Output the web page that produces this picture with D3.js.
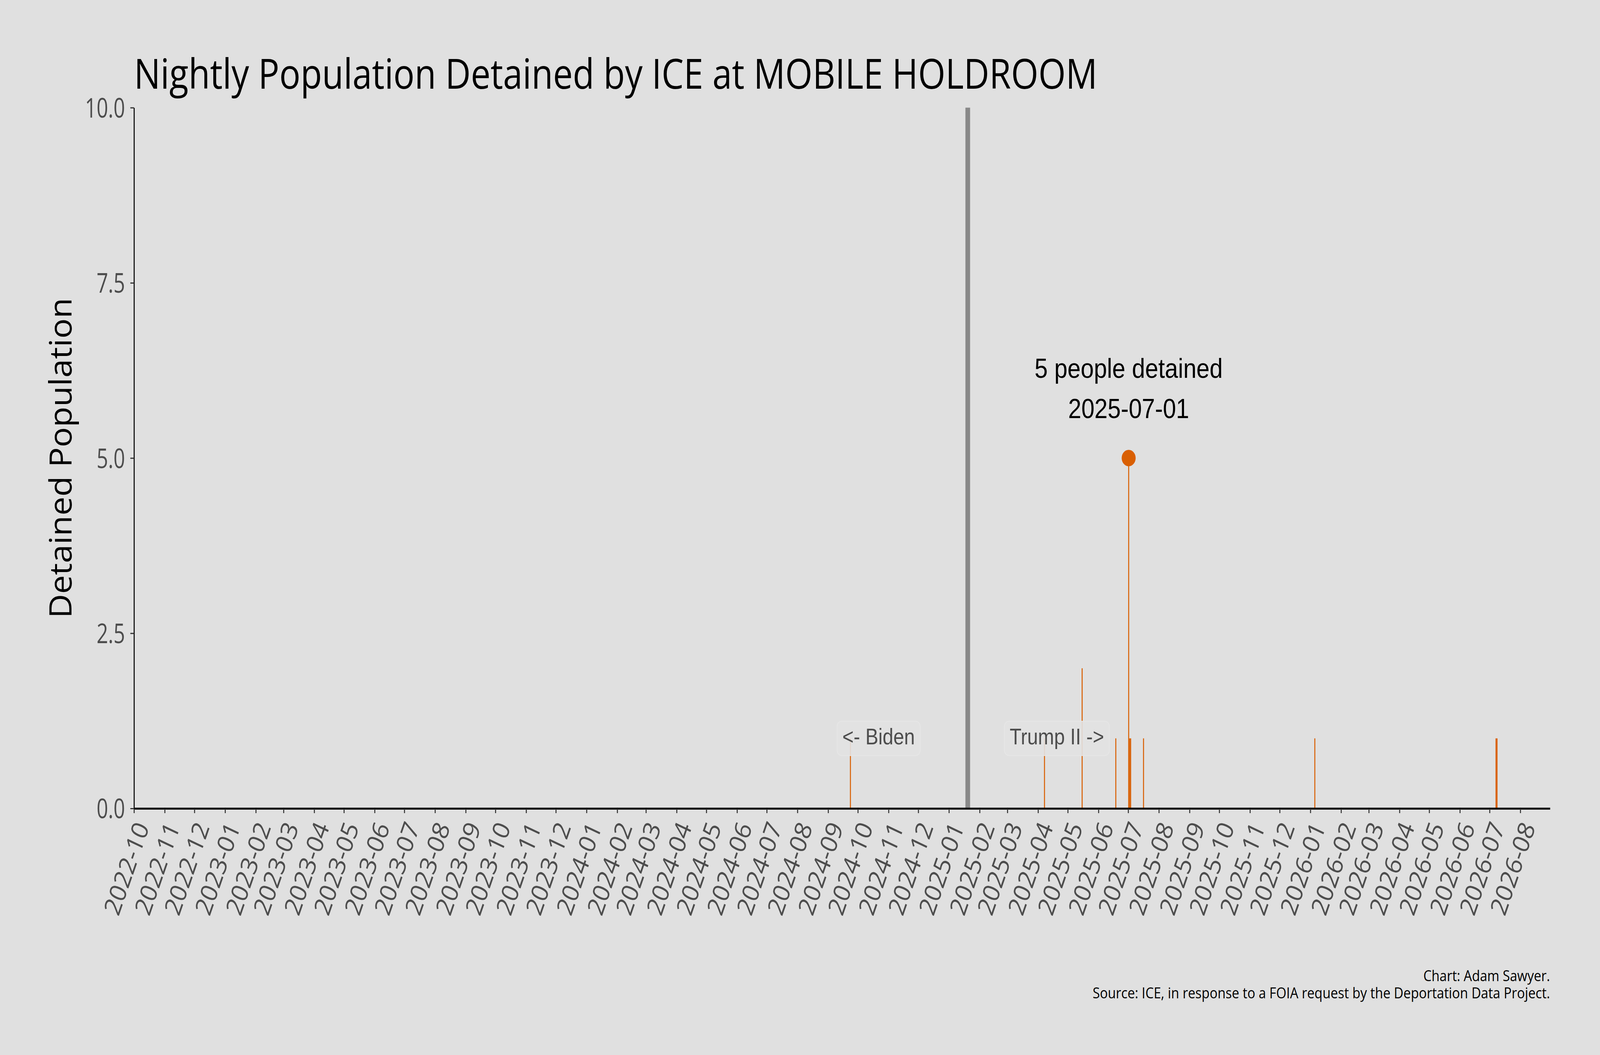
<!DOCTYPE html>
<html>
<head>
<meta charset="utf-8">
<script src="https://cdn.jsdelivr.net/npm/d3@7"></script>
<style>
  html, body { margin: 0; padding: 0; background: #e0e0e0; overflow: hidden; }
  #chart { width: 100vw; height: 100vh; }
  svg { display: block; width: 100%; height: 100%; }
</style>
</head>
<body>
<div id="chart"></div>
<script>
// nightly counts, only nights with someone held
var dates    = ["2024-09-23", "2025-04-07", "2025-05-15", "2025-06-18", "2025-07-01", "2025-07-02",
                "2025-07-03", "2025-07-16", "2026-01-05", "2026-07-07", "2026-07-08"];
var detained = [1, 1, 2, 1, 5, 1, 1, 1, 1, 1, 1];

var xDomain = ["2022-10-01", "2026-08-31"];
var firstTick = "2022-10-01", lastTick = "2026-08-01";
var yTicks = [0, 2.5, 5, 7.5, 10];

var inauguration = "2025-01-20";
var eraLabels = ["<- Biden", "Trump II ->"];
var peakDate = "2025-07-01", peakValue = 5;
var peakLines = ["5 people detained", "2025-07-01"];

var title = "Nightly Population Detained by ICE at MOBILE HOLDROOM";
var yLabel = "Detained Population";
var credits = ["Chart: Adam Sawyer.", "Source: ICE, in response to a FOIA request by the Deportation Data Project."];

var W = 4800, H = 2700;
var plotLeft = 402, plotRight = 4650, plotTop = 275.5, plotBottom = 2069;
var orange = "#d95f02";
var sans = "'Open Sans', 'Noto Sans', sans-serif";
var arial = "'Liberation Sans', Arial, sans-serif";

var parse = d3.timeParse("%Y-%m-%d");
var data = dates.map(function(d, i){ return { date: parse(d), value: detained[i] }; });

// drawn in a 4800x2700 frame, stretched to whatever the window is
var svg = d3.select("#chart").append("svg")
    .attr("viewBox", "0 0 " + W + " " + H)
    .attr("preserveAspectRatio", "none");

svg.append("rect").attr("width", W).attr("height", H).attr("fill", "#e0e0e0");

var x = d3.scaleTime()
    .domain(xDomain.map(parse))
    .range([plotLeft, plotRight]);

var y = d3.scaleLinear()
    .domain([0, 10])
    .range([plotBottom, plotTop]);

// the original face is narrower than Open Sans
function condense(factor) {
    return function(sel) {
        sel.each(function(){
            var w = this.getComputedTextLength();
            this.setAttribute("textLength", w * factor);
            this.setAttribute("lengthAdjust", "spacingAndGlyphs");
        });
    };
}

// inauguration line
svg.append("line")
    .attr("x1", x(parse(inauguration))).attr("x2", x(parse(inauguration)))
    .attr("y1", plotTop).attr("y2", plotBottom)
    .attr("stroke", "#888888").attr("stroke-width", 14);

// one bar per night, one day wide
svg.append("g").selectAll("rect")
    .data(data)
    .enter()
    .append("rect")
    .attr("x", function(d){ return x(d.date); })
    .attr("width", function(d){ return x(d3.timeDay.offset(d.date, 1)) - x(d.date); })
    .attr("y", function(d){ return y(d.value); })
    .attr("height", function(d){ return y(0) - y(d.value); })
    .attr("fill", orange);

// era labels with a soft box
var eraOffsets = [-90, 90];
eraLabels.forEach(function(label, i){
    var cx = x(d3.timeDay.offset(parse(inauguration), eraOffsets[i]));
    var g = svg.append("g");
    var box = g.append("rect");
    var t = g.append("text")
        .attr("x", cx).attr("y", y(1))
        .attr("dy", "0.27em")
        .attr("text-anchor", "middle")
        .attr("font-family", arial)
        .attr("font-size", 58)
        .attr("fill", "#4d4d4d")
        .text(label);
    var w = t.node().getComputedTextLength();
    box.attr("x", cx - w / 2 - 16).attr("width", w + 32)
        .attr("y", y(1) - 44).attr("height", 88)
        .attr("rx", 14)
        .attr("fill", "#e2e2e2").attr("fill-opacity", 0.9)
        .attr("stroke", "#e7e7e7").attr("stroke-width", 2);
});

// peak marker and note
var peak = parse(peakDate);
var peakX = x(peak) + (x(d3.timeDay.offset(peak, 1)) - x(peak)) / 2;
svg.append("circle")
    .attr("cx", peakX).attr("cy", y(peakValue))
    .attr("r", 21)
    .attr("fill", orange);

svg.append("g").selectAll("text")
    .data(peakLines)
    .enter()
    .append("text")
    .attr("x", peakX)
    .attr("y", function(d, i){ return 967 + i * 103; })
    .attr("text-anchor", "middle")
    .attr("font-family", arial)
    .attr("font-size", 71)
    .attr("fill", "#000")
    .text(function(d){ return d; });

// axes
var xAxis = d3.axisBottom(x)
    .tickValues(d3.timeMonth.range(parse(firstTick), d3.timeDay.offset(parse(lastTick), 1)))
    .tickFormat(d3.timeFormat("%Y-%m"))
    .tickSize(12)
    .tickSizeOuter(0);

var gx = svg.append("g")
    .attr("transform", "translate(0," + plotBottom + ")")
    .call(xAxis);
gx.select(".domain").attr("stroke", "#000").attr("stroke-width", 5);
gx.selectAll(".tick line").attr("stroke", "#333").attr("stroke-width", 3);
gx.selectAll(".tick text")
    .attr("x", 0).attr("y", 0)
    .attr("dy", "0.72em")
    .attr("transform", "translate(0,29) rotate(-68)")
    .attr("text-anchor", "end")
    .attr("font-family", sans)
    .attr("font-size", 69)
    .attr("fill", "#4d4d4d")
    .call(condense(0.96));

var yAxis = d3.axisLeft(y)
    .tickValues(yTicks)
    .tickFormat(d3.format(".1f"))
    .tickSize(11)
    .tickPadding(16)
    .tickSizeOuter(0);

var gy = svg.append("g")
    .attr("transform", "translate(" + plotLeft + ",0)")
    .call(yAxis);
gy.select(".domain").attr("stroke", "#000").attr("stroke-width", 3);
gy.selectAll(".tick line").attr("stroke", "#333").attr("stroke-width", 3);
gy.selectAll(".tick text")
    .attr("dy", "0.36em")
    .attr("font-family", sans)
    .attr("font-size", 69)
    .attr("fill", "#4d4d4d")
    .call(condense(0.88));

// y label
svg.append("text")
    .attr("transform", "translate(215," + ((plotTop + plotBottom) / 2) + ") rotate(-90)")
    .attr("text-anchor", "middle")
    .attr("font-family", sans)
    .attr("font-size", 93)
    .attr("fill", "#000")
    .attr("textLength", 820)
    .attr("lengthAdjust", "spacingAndGlyphs")
    .text(yLabel);

// title
svg.append("text")
    .attr("x", plotLeft).attr("y", 227)
    .attr("font-family", sans)
    .attr("font-size", 106)
    .attr("fill", "#000")
    .attr("textLength", 2890)
    .attr("lengthAdjust", "spacingAndGlyphs")
    .text(title);

// credits
var creditWidths = [380, 1372];
svg.append("g").selectAll("text")
    .data(credits)
    .enter()
    .append("text")
    .attr("x", plotRight)
    .attr("y", function(d, i){ return 2511 + i * 44; })
    .attr("text-anchor", "end")
    .attr("font-family", sans)
    .attr("font-size", 39)
    .attr("fill", "#000")
    .attr("textLength", function(d, i){ return creditWidths[i]; })
    .attr("lengthAdjust", "spacingAndGlyphs")
    .text(function(d){ return d; });
</script>
</body>
</html>
